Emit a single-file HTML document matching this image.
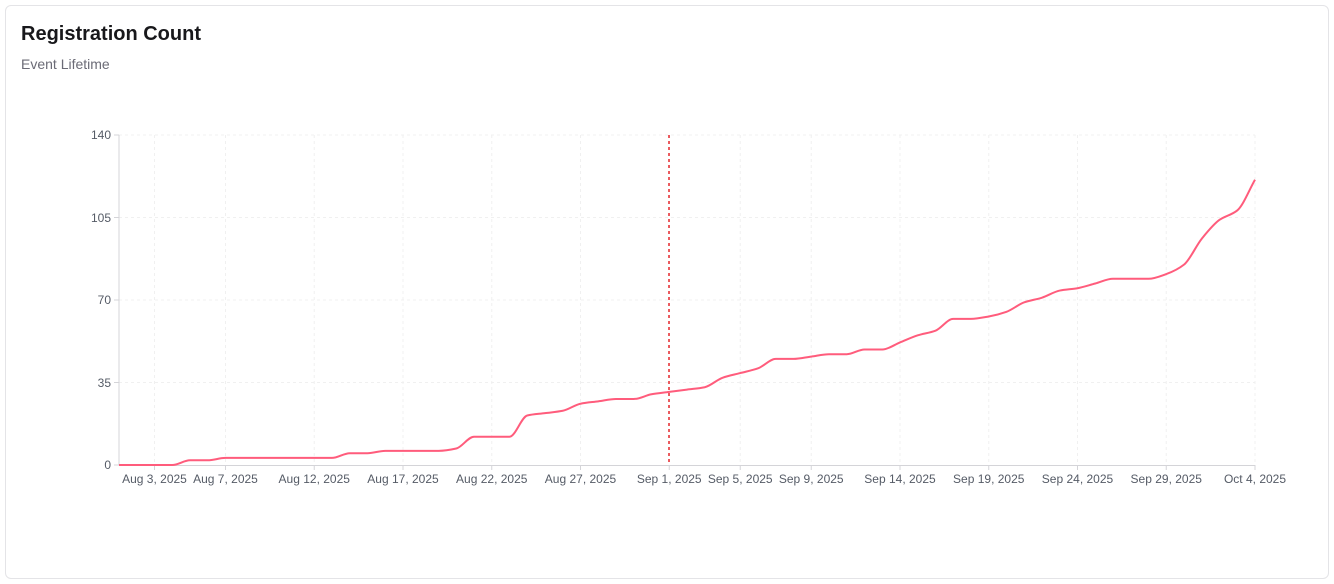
<!DOCTYPE html>
<html><head><meta charset="utf-8"><style>
html,body{margin:0;padding:0;background:#fff;width:1334px;height:584px;overflow:hidden;font-family:"Liberation Sans",sans-serif}
.card{position:absolute;left:5px;top:5px;width:1322px;height:572px;border:1px solid #e4e4e7;border-radius:6px}
.t{position:absolute;left:21px;top:23px;font-size:20px;font-weight:bold;color:#18181b}
.s{position:absolute;left:21px;top:56px;font-size:14px;color:#6b6b76}
svg{position:absolute;left:0;top:0}
text{font-family:"Liberation Sans",sans-serif;font-size:12px;fill:#555b66}
</style></head><body>
<div class="card"></div>
<div class="t">Registration Count</div>
<div class="s">Event Lifetime</div>
<svg width="1334" height="584" id="s">
<g stroke="#f0f0f0" stroke-dasharray="3,3">
<line x1="119" x2="1255" y1="135" y2="135"/><line x1="119" x2="1255" y1="217.5" y2="217.5"/><line x1="119" x2="1255" y1="300" y2="300"/><line x1="119" x2="1255" y1="382.5" y2="382.5"/>
</g>
<g id="vg" stroke="#f0f0f0" stroke-dasharray="3,3"></g>
<line x1="119" y1="135" x2="119" y2="465" stroke="#d4d4d8"/>
<line x1="119" y1="465.5" x2="1255" y2="465.5" stroke="#d4d4d8"/>
<g stroke="#d4d4d8"><line x1="114" x2="119" y1="135" y2="135"/><line x1="114" x2="119" y1="217.5" y2="217.5"/><line x1="114" x2="119" y1="300" y2="300"/><line x1="114" x2="119" y1="382.5" y2="382.5"/><line x1="114" x2="119" y1="465" y2="465"/></g>
<g text-anchor="end"><text x="111" y="139">140</text><text x="111" y="222">105</text><text x="111" y="304">70</text><text x="111" y="387">35</text><text x="111" y="469">0</text></g>
<g id="xl" text-anchor="middle"></g>
<path id="ln" fill="none" stroke="#ff5c7c" stroke-width="2"/>
<line x1="669" y1="135" x2="669" y2="465" stroke="#e5262b" stroke-width="1.5" stroke-dasharray="3,3"/>
</svg>
<script>
var x0=119,dx=17.75;
var labs=[[2,"Aug 3, 2025"],[6,"Aug 7, 2025"],[11,"Aug 12, 2025"],[16,"Aug 17, 2025"],[21,"Aug 22, 2025"],[26,"Aug 27, 2025"],[31,"Sep 1, 2025"],[35,"Sep 5, 2025"],[39,"Sep 9, 2025"],[44,"Sep 14, 2025"],[49,"Sep 19, 2025"],[54,"Sep 24, 2025"],[59,"Sep 29, 2025"],[64,"Oct 4, 2025"]];
var ns="http://www.w3.org/2000/svg",xl=document.getElementById('xl'),vg=document.getElementById('vg');
labs.forEach(function(l){var x=x0+l[0]*dx;
var t=document.createElementNS(ns,'text');t.setAttribute('x',x);t.setAttribute('y',483);t.textContent=l[1];xl.appendChild(t);
var g=document.createElementNS(ns,'line');g.setAttribute('x1',x);g.setAttribute('x2',x);g.setAttribute('y1',135);g.setAttribute('y2',465);vg.appendChild(g);
var k=document.createElementNS(ns,'line');k.setAttribute('x1',x);k.setAttribute('x2',x);k.setAttribute('y1',465);k.setAttribute('y2',470);k.setAttribute('stroke','#d4d4d8');xl.appendChild(k);});
var v=[0,0,0,0,2,2,3,3,3,3,3,3,3,5,5,6,6,6,6,7,12,12,12,21,22,23,26,27,28,28,30,31,32,33,37,39,41,45,45,46,47,47,49,49,52,55,57,62,62,63,65,69,71,74,75,77,79,79,79,81,85,96,104,108,121];
var p=v.map(function(y,i){return [x0+i*dx,465-y*330/140];});
var n=p.length,m=[],d=[];
for(var i=0;i<n-1;i++)d.push((p[i+1][1]-p[i][1])/(p[i+1][0]-p[i][0]));
m[0]=d[0];m[n-1]=d[n-2];
for(var i=1;i<n-1;i++){m[i]=(d[i-1]*d[i]<=0)?0:2/(1/d[i-1]+1/d[i]);}
var s="M"+p[0][0]+","+p[0][1];
for(var i=0;i<n-1;i++){var h=p[i+1][0]-p[i][0];
s+="C"+(p[i][0]+h/3)+","+(p[i][1]+m[i]*h/3)+" "+(p[i+1][0]-h/3)+","+(p[i+1][1]-m[i+1]*h/3)+" "+p[i+1][0]+","+p[i+1][1];}
document.getElementById('ln').setAttribute('d',s);
</script>
</body></html>
